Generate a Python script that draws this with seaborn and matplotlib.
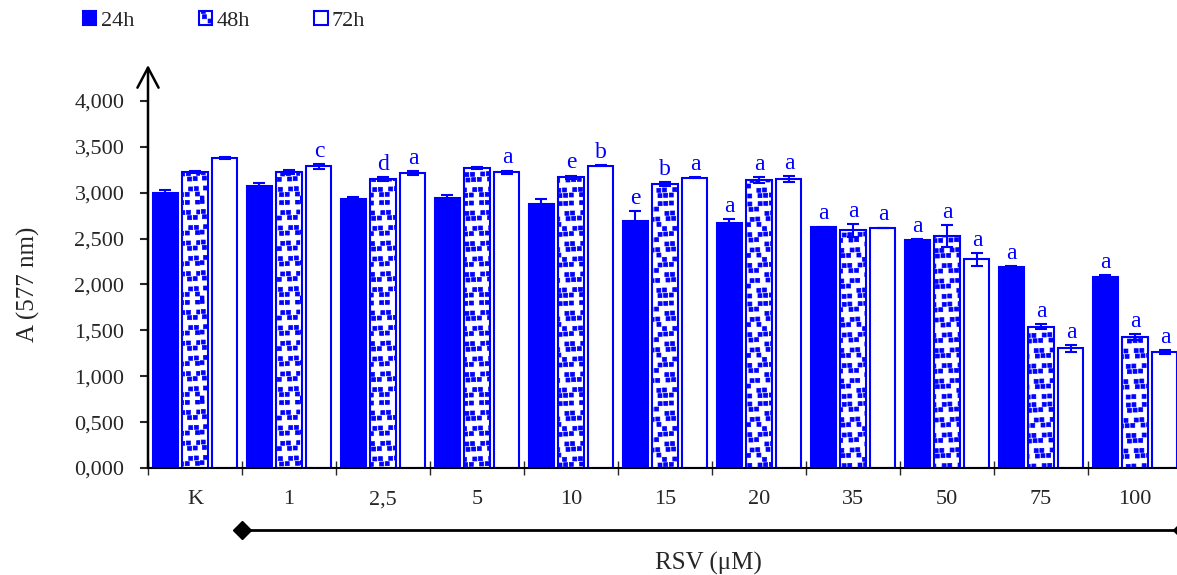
import numpy as np
import pandas as pd
import matplotlib
matplotlib.use("Agg")
import matplotlib.pyplot as plt
import matplotlib.hatch as mhatch
from matplotlib.path import Path
import seaborn as sns

# data
doses = ['K', '1', '2,5', '5', '10', '15', '20', '35', '50', '75', '100']
times = ['24h', '48h', '72h']
a_24h = [3.00, 3.07, 2.93, 2.945, 2.88, 2.69, 2.67, 2.62, 2.48, 2.186, 2.084]
a_48h = [3.228, 3.228, 3.148, 3.265, 3.166, 3.097, 3.14, 2.588, 2.523, 1.539, 1.427]
a_72h = [3.377, 3.285, 3.217, 3.22, 3.293, 3.162, 3.15, 2.614, 2.273, 1.303, 1.264]
sd_24h = [0.028, 0.036, 0.02, 0.03, 0.055, 0.113, 0.04, 0.01, 0.01, 0.018, 0.014]
sd_48h = [0.01, 0.02, 0.018, 0.01, 0.02, 0.022, 0.03, 0.07, 0.12, 0.03, 0.033]
sd_72h = [0.007, 0.025, 0.02, 0.02, 0.007, 0.004, 0.03, 0.005, 0.07, 0.036, 0.018]
let_24h = ['', '', '', '', '', 'e', 'a', 'a', 'a', 'a', 'a']
let_48h = ['', '', 'd', '', 'e', 'b', 'a', 'a', 'a', 'a', 'a']
let_72h = ['', 'c', 'a', 'a', 'b', 'a', 'a', 'a', 'a', 'a', 'a']

BLUE = '#0000FF'


class SquareDots(mhatch.HatchPatternBase):
    # small filled squares scattered on a grid, used for the '*' hatch
    filled = True
    n = 13
    size = 0.04

    def __init__(self, hatch, density):
        self.num_vertices = self.n * self.n * 5 if '*' in hatch else 0

    def set_vertices_and_codes(self, vertices, codes):
        step = 1.0 / self.n
        sq = np.array([[0, 0], [1, 0], [1, 1], [0, 1], [0, 0]]) * self.size
        k = 0
        for i in range(self.n):
            for j in range(self.n):
                dx = ((i * 73 + j * 151) % 97) / 97 * 0.6 * step
                dy = ((i * 41 + j * 89) % 83) / 83 * 0.6 * step
                vertices[k:k + 5] = sq + [j * step + dx, i * step + dy]
                codes[k:k + 5] = [Path.MOVETO, Path.LINETO, Path.LINETO,
                                  Path.LINETO, Path.CLOSEPOLY]
                k += 5


mhatch._hatch_types = [t for t in mhatch._hatch_types if t is not mhatch.Stars] + [SquareDots]

sns.set_style("white")
plt.rcParams['font.family'] = ['Liberation Serif', 'DejaVu Serif']
plt.rcParams['hatch.linewidth'] = 0.5

df = pd.DataFrame({
    'dose': doses * 3,
    'time': [t for t in times for _ in doses],
    'A': a_24h + a_48h + a_72h,
})
means = [a_24h, a_48h, a_72h]
sds = [sd_24h, sd_48h, sd_72h]
letters = [let_24h, let_48h, let_72h]

fig = plt.figure(figsize=(11.77, 5.75), dpi=100)
ax = fig.add_axes([148 / 1177, 107 / 575, 1034 / 1177, 403 / 575])

sns.barplot(data=df, x='dose', y='A', hue='time', order=doses, hue_order=times,
            palette=[BLUE, BLUE, BLUE], saturation=1, errorbar=None,
            width=0.957, gap=0.166, ax=ax, legend=False)
bar_sets = list(ax.containers)

faces = [BLUE, 'white', 'white']
hatches = [None, '*', None]
for cont, fc, h in zip(bar_sets, faces, hatches):
    for p in cont.patches:
        p.set_facecolor(fc)
        p.set_edgecolor(BLUE)
        p.set_linewidth(1.5)
        p.set_hatch(h)

for cont, m, s, lets in zip(bar_sets, means, sds, letters):
    xs = [p.get_x() + p.get_width() / 2 for p in cont.patches]
    ax.errorbar(xs, m, yerr=s, fmt='none', ecolor=BLUE, elinewidth=1.5,
                capsize=4.3, capthick=1.5, zorder=3)
    for x, v, e, t in zip(xs, m, s, lets):
        if t:
            ax.annotate(t, (x, v + e), xytext=(0, 1.5), textcoords='offset points',
                        ha='center', va='bottom', fontsize=17, color=BLUE)

ax.set_ylim(0, 4.39)
ax.set_xlim(-0.5, 10.5)
ax.set_yticks(np.arange(0, 4.01, 0.5))
ax.set_yticklabels([f"{v:.3f}".replace('.', ',') for v in np.arange(0, 4.01, 0.5)])
ax.tick_params(axis='y', which='major', left=True, direction='out', length=6,
               width=1.5, pad=11, labelsize=16)

ax.set_xticks(np.arange(-0.5, 10.6, 1.0))
ax.set_xticklabels([])
ax.set_xticks(np.arange(0, 11), minor=True)
ax.set_xticklabels(doses, minor=True)
ax.tick_params(axis='x', which='major', bottom=True, direction='inout', length=10, width=1)
ax.tick_params(axis='x', which='minor', bottom=True, length=0, pad=16, labelsize=16)
ax.set_xlabel('')
ax.set_ylabel('')

for side in ['top', 'right', 'left']:
    ax.spines[side].set_visible(False)
ax.spines['bottom'].set_linewidth(1.5)
ax.spines['bottom'].set_color('black')

# y axis with open arrow head
ax.annotate('', xy=(0, 1), xycoords='axes fraction', xytext=(0, 0),
            textcoords='axes fraction',
            arrowprops=dict(arrowstyle='->,head_length=0.72,head_width=0.38',
                            mutation_scale=20, lw=1.8, color='black',
                            shrinkA=0, shrinkB=0))

# RSV dose bracket
ax.plot([0.5, 10.5], [-0.675, -0.675], color='black', lw=2, marker='D',
        markersize=9, clip_on=False)

fig.text(28 / 1177, 1 - 284 / 575, 'A (577 nm)', rotation=90, ha='center',
         va='center', fontsize=18)
fig.text(708 / 1177, 1 - 563 / 575, 'RSV (μM)', ha='center', va='center', fontsize=18)

handles = [c.patches[0] for c in bar_sets]
fig.legend(handles, times, loc='center left', bbox_to_anchor=(83 / 1177, 1 - 21 / 575),
           ncol=3, frameon=False, fontsize=16, handlelength=0.6, handleheight=0.6,
           handletextpad=0.2, columnspacing=2.9, borderpad=0, borderaxespad=0)

fig.savefig('out.png', dpi=100)
